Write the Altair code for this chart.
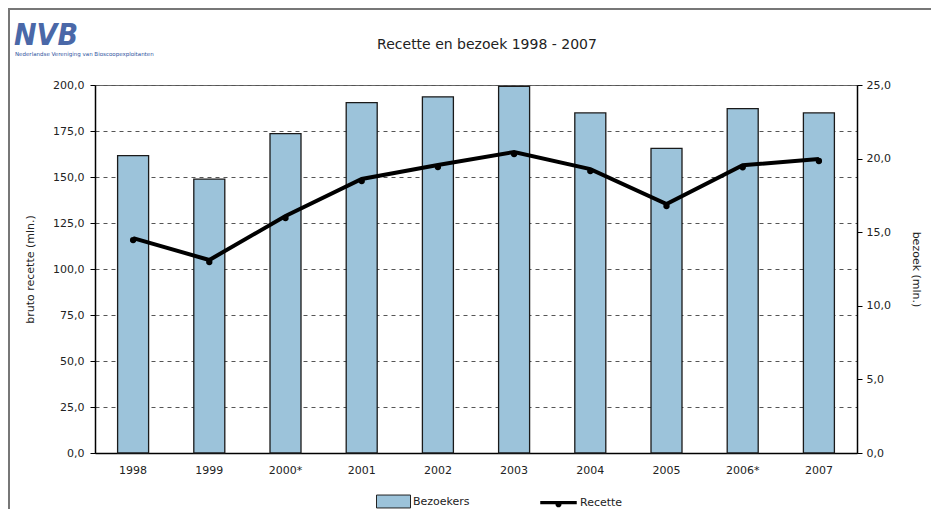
import altair as alt
import pandas as pd

years = ["1998", "1999", "2000*", "2001", "2002", "2003", "2004", "2005", "2006*", "2007"]
bezoekers = [20.2, 18.6, 21.7, 23.8, 24.2, 24.9, 23.1, 20.7, 23.4, 23.1]
recette = [116.8, 104.9, 128.8, 148.9, 156.5, 163.6, 154.3, 135.3, 156.4, 159.8]
left_ticks = [0, 25, 50, 75, 100, 125, 150, 175, 200]
right_ticks = [0, 5, 10, 15, 20, 25]
series_names = ["Bezoekers", "Recette"]
title_text = "Recette en bezoek 1998 - 2007"
logo_text = "NVB"
logo_sub = "Nederlandse Vereniging van Bioscoopexploitanten"

df = pd.DataFrame({
    "jaar": years,
    "bezoekers": bezoekers,
    "recette": recette,
    "s_b": series_names[0],
    "s_r": series_names[1],
})

FONT = "DejaVu Sans"
nl_fmt = "replace(format(datum.value, '.1f'), '.', ',')"
BAR_COLOR = "#9CC3DA"

x_enc = alt.X(
    "jaar:N", sort=years,
    scale=alt.Scale(paddingInner=0, paddingOuter=0),
    axis=alt.Axis(title=None, labelAngle=0, ticks=False, labelPadding=11,
                  domainColor="black", domainWidth=1.5, labelFontSize=11,
                  labelColor="#222", labelFont=FONT),
)

bars = alt.Chart(df).mark_bar(size=31, stroke="#1a1a1a", strokeWidth=1.3).encode(
    x=x_enc,
    y=alt.Y("bezoekers:Q", scale=alt.Scale(domain=[0, 25], nice=False),
            axis=alt.Axis(orient="right", values=right_ticks, labelExpr=nl_fmt,
                          title="bezoek (mln.)", grid=False, tickSize=5,
                          tickColor="black", domainColor="black", domainWidth=1.5,
                          labelPadding=4, titlePadding=20, labelFontSize=11,
                          titleFontSize=11, titleFontWeight="normal",
                          labelColor="#222", titleColor="#222",
                          labelFont=FONT, titleFont=FONT)),
    fill=alt.Fill("s_b:N", scale=alt.Scale(domain=[series_names[0]], range=[BAR_COLOR]),
                  legend=alt.Legend(title=None, orient="none", legendX=281, legendY=399,
                                    symbolType="M-1,-0.38H1V0.38H-1Z", symbolSize=1156,
                                    symbolStrokeColor="#222", symbolStrokeWidth=1,
                                    symbolFillColor=BAR_COLOR, symbolOpacity=1,
                                    labelFontSize=11, labelOffset=2, padding=0,
                                    labelFont=FONT, labelColor="#222")),
)

line = alt.Chart(df).mark_line(strokeWidth=4).encode(
    x=x_enc,
    y=alt.Y("recette:Q", scale=alt.Scale(domain=[0, 200], nice=False),
            axis=alt.Axis(orient="left", values=left_ticks, labelExpr=nl_fmt,
                          title="bruto recette (mln.)", grid=True, gridDash=[4, 4],
                          gridColor="#555", gridWidth=1, tickSize=5,
                          tickColor="black", domainColor="black", domainWidth=1.5,
                          labelPadding=6, titlePadding=17, labelFontSize=11,
                          titleFontSize=11, titleFontWeight="normal",
                          labelColor="#222", titleColor="#222",
                          labelFont=FONT, titleFont=FONT)),
    stroke=alt.Stroke("s_r:N", scale=alt.Scale(domain=[series_names[1]], range=["black"]),
                      legend=alt.Legend(title=None, orient="none", legendX=445, legendY=399,
                                        symbolType="M-1,-0.05H1V0.05H-1Z M0.13,0.1A0.13,0.13,0,1,1,-0.13,0.1A0.13,0.13,0,1,1,0.13,0.1Z",
                                        symbolSize=1225, symbolFillColor="black",
                                        symbolStrokeWidth=1.5,
                                        labelFontSize=11, labelOffset=3, padding=0,
                                        labelFont=FONT, labelColor="#222")),
)

points = alt.Chart(df).mark_point(filled=True, color="black", size=40, opacity=1).encode(
    x=x_enc,
    y=alt.Y("recette:Q"),
    yOffset=alt.value(2),
)

one = pd.DataFrame({"t": [logo_text]})
title = alt.Chart(one).mark_text(
    text=title_text, font=FONT, fontSize=14, color="#222",
    align="center", baseline="middle",
).encode(x=alt.value(392), y=alt.value(-40))
logo = alt.Chart(one).mark_text(
    text=logo_text, font="DejaVu Sans Condensed", fontSize=30, fontWeight="bold",
    fontStyle="italic", color="#4A68A8", align="left", baseline="alphabetic",
).encode(x=alt.value(-81), y=alt.value(-40))
logo_small = alt.Chart(one).mark_text(
    text=logo_sub, font="DejaVu Sans", fontSize=5.5, color="#2F55A0",
    align="left", baseline="middle",
).encode(x=alt.value(-80), y=alt.value(-31))

border = alt.Chart(one).mark_rect(fill=None, stroke="#777", strokeWidth=2).encode(
    x=alt.value(-86), x2=alt.value(1000), y=alt.value(-76), y2=alt.value(700))

chart = alt.layer(
    bars, alt.layer(line, points), title, logo, logo_small, border
).resolve_scale(y="independent", fill="independent", stroke="independent").properties(
    width=762, height=368,
    autosize=alt.AutoSizeParams(type="none"),
    padding={"left": 87, "top": 77, "right": 74, "bottom": 56},
).configure_view(stroke="#666", strokeWidth=1)

chart.save("out.html", embed_options={"renderer": "svg", "actions": False})
